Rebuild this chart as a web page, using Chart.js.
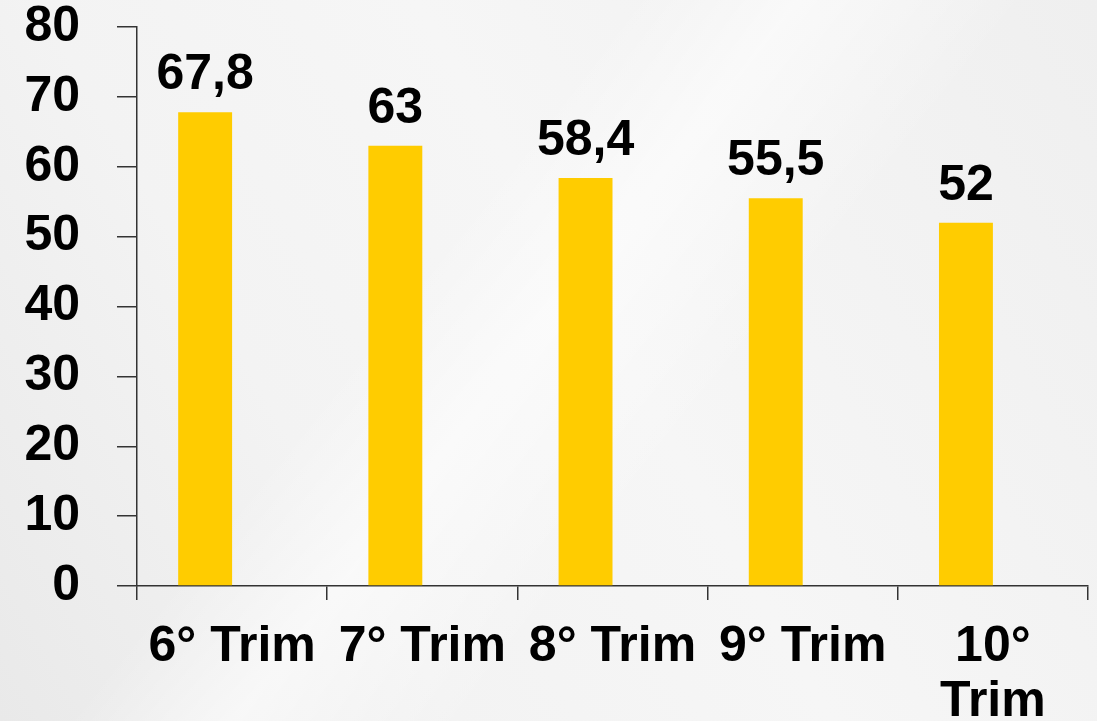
<!DOCTYPE html>
<html>
<head>
<meta charset="utf-8">
<script src="https://cdn.jsdelivr.net/npm/chart.js@4/dist/chart.umd.min.js"></script>
<style>
html, body { margin: 0; padding: 0; }
body {
  width: 1097px; height: 721px; overflow: hidden;
  background:
    linear-gradient(128deg, rgba(255,255,255,0) 38%, rgba(255,255,255,0.55) 48%, rgba(255,255,255,0) 62%),
    linear-gradient(60deg, #e9e9e9 0%, #f3f3f3 30%, #f6f6f6 55%, #efefef 100%);
}
#wrap { position: relative; width: 1097px; height: 721px; }
</style>
</head>
<body>
<div id="wrap"><canvas id="barChart"></canvas></div>
<script>
const categories = ["6° Trim", "7° Trim", "8° Trim", "9° Trim", ["10°", "Trim"]];
const values = [67.8, 63, 58.4, 55.5, 52];
// the original chart has a second, empty series next to the bars
const emptySeries = [null, null, null, null, null];
const yTicks = [0, 10, 20, 30, 40, 50, 60, 70, 80];

const fontFamily = "'Liberation Sans', Arial, sans-serif";

// draws the value above each bar, with a comma as decimal sign
const valueLabels = {
  id: "valueLabels",
  afterDatasetsDraw(chart) {
    const ctx = chart.ctx;
    const meta = chart.getDatasetMeta(0);
    ctx.save();
    ctx.font = "bold 50px " + fontFamily;
    ctx.fillStyle = "#000";
    ctx.textAlign = "center";
    ctx.textBaseline = "alphabetic";
    meta.data.forEach((bar, i) => {
      const txt = String(values[i]).replace(".", ",");
      ctx.fillText(txt, bar.x, bar.y - 23);
    });
    ctx.restore();
  }
};

const ctx = document.getElementById("barChart").getContext("2d");
new Chart(ctx, {
  type: "bar",
  data: {
    labels: categories,
    datasets: [{
      data: values,
      backgroundColor: "#FFCC00",
      borderWidth: 0,
      categoryPercentage: 0.567,
      barPercentage: 1
    }, {
      data: emptySeries,
      backgroundColor: "#FFCC00",
      borderWidth: 0,
      categoryPercentage: 0.567,
      barPercentage: 1
    }]
  },
  options: {
    responsive: true,
    maintainAspectRatio: false,
    animation: false,
    layout: { padding: { top: 27, right: 9, left: 0, bottom: 0 } },
    plugins: {
      legend: { display: false },
      tooltip: { enabled: false }
    },
    scales: {
      y: {
        min: 0,
        max: 80,
        afterBuildTicks: axis => { axis.ticks = yTicks.map(v => ({ value: v })); },
        afterFit: axis => { axis.width = 137; axis.paddingTop = 0; axis.paddingBottom = 0; },
        border: { color: "#333", width: 1.5 },
        grid: { drawOnChartArea: false, tickLength: 20, color: "#333", lineWidth: 1.5 },
        ticks: { padding: 37, color: "#000", font: { family: fontFamily, size: 50, weight: "bold" } }
      },
      x: {
        afterFit: axis => { axis.height = 135; axis.paddingLeft = 0; axis.paddingRight = 0; },
        border: { color: "#333", width: 1.5 },
        grid: { drawOnChartArea: false, tickLength: 14, color: "#333", lineWidth: 1.5, offset: true },
        ticks: { padding: 20, maxRotation: 0, autoSkip: false, color: "#000",
          font: { family: fontFamily, size: 50, weight: "bold", lineHeight: 1.1 } }
      }
    }
  },
  plugins: [valueLabels]
});
</script>
</body>
</html>
